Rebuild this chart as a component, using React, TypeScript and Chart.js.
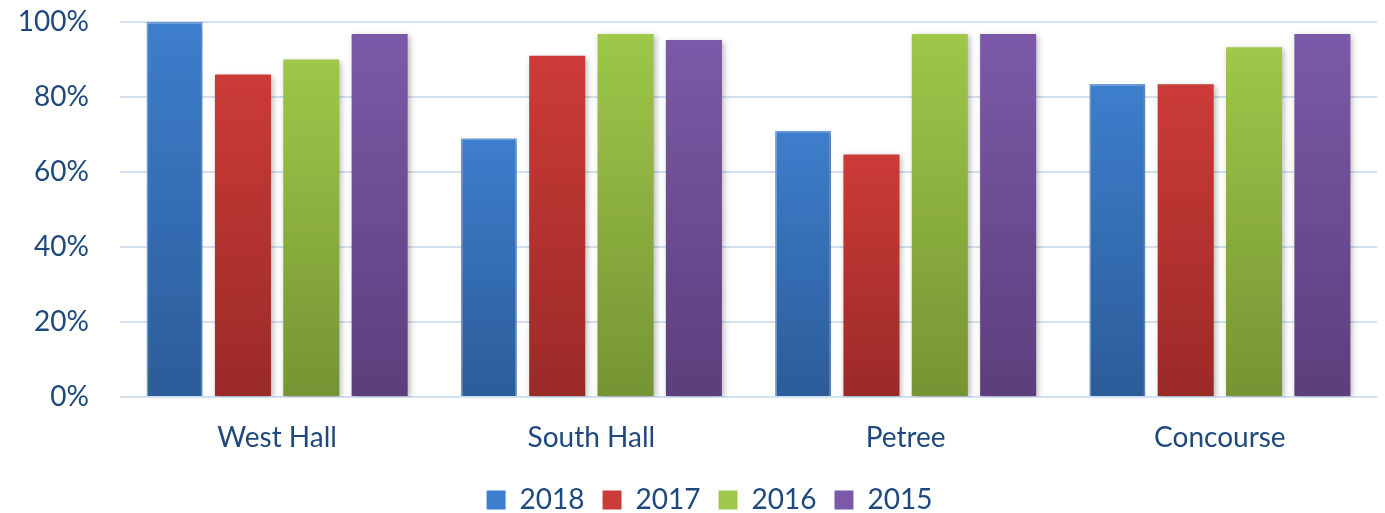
import React, { useEffect, useRef } from "react";
import { Chart, registerables } from "chart.js";

Chart.register(...registerables);

const categories = ["West Hall", "South Hall", "Petree", "Concourse"];
const seriesLabels = ["2018", "2017", "2016", "2015"];
const values2018 = [100, 69, 71, 83.5];
const values2017 = [86, 91, 64.7, 83.4];
const values2016 = [90, 96.8, 96.8, 93.3];
const values2015 = [96.8, 95.2, 96.8, 96.8];
const yTicks = [0, 20, 40, 60, 80, 100];

const topColors = ["#3D7ECC", "#CC3B37", "#9FC74A", "#7B59A8"];
const bottomColors = ["#2C5C99", "#9A2A28", "#759433", "#5D3E7C"];
const TEXT = "#1F497D";
const FONT = "Lato";

function gradientFor(i: number) {
  return (ctx: any) => {
    const chart = ctx.chart;
    const area = chart.chartArea;
    if (!area) return topColors[i];
    const y = chart.scales.y;
    const v = ctx.parsed ? ctx.parsed.y : 100;
    const top = y.getPixelForValue(v);
    const bottom = y.getPixelForValue(0);
    if (!isFinite(top) || top === bottom) return topColors[i];
    const g = chart.ctx.createLinearGradient(0, top, 0, bottom);
    g.addColorStop(0, topColors[i]);
    g.addColorStop(1, bottomColors[i]);
    return g;
  };
}

const shadowPlugin = {
  id: "barShadow",
  beforeDatasetsDraw(chart: any) {
    const c = chart.ctx;
    c.save();
    c.shadowColor = "rgba(0,0,0,0.28)";
    c.shadowBlur = 6;
    c.shadowOffsetX = 2;
    c.shadowOffsetY = 2;
  },
  afterDatasetsDraw(chart: any) {
    chart.ctx.restore();
  },
};

// Excel centres the legend under the plot + axis block; shift it to match
const legendShiftPlugin = {
  id: "legendShift",
  afterLayout(chart: any) {
    if (chart.legend) {
      chart.legend.left += 42;
    }
  },
};

export default function App() {
  const ref = useRef<HTMLCanvasElement | null>(null);
  useEffect(() => {
    if (!ref.current) return;
    const all = [values2018, values2017, values2016, values2015];
    const chart = new Chart(ref.current, {
      type: "bar",
      data: {
        labels: categories,
        datasets: all.map((vals, i) => ({
          label: seriesLabels[i],
          data: vals,
          backgroundColor: gradientFor(i),
          borderColor: i === 0 ? "rgba(98,152,222,0.9)" : "rgba(0,0,0,0)",
          borderWidth: i === 0 ? 1.5 : 0,
          categoryPercentage: 0.87,
          barPercentage: 0.82,
        })),
      },
      options: {
        animation: false,
        responsive: true,
        maintainAspectRatio: false,
        layout: { padding: { top: 22, right: 8, left: 0, bottom: -11 } },
        plugins: {
          legend: {
            position: "bottom",
            labels: {
              color: TEXT,
              font: { family: FONT, size: 28 },
              boxWidth: 19,
              boxHeight: 19,
              padding: 18,
              generateLabels: (ch: any) =>
                ch.data.datasets.map((d: any, i: number) => ({
                  text: d.label,
                  fillStyle: topColors[i],
                  strokeStyle: topColors[i],
                  lineWidth: 0,
                  fontColor: TEXT,
                  datasetIndex: i,
                  hidden: false,
                })),
            },
          },
          tooltip: { enabled: false },
        },
        scales: {
          x: {
            grid: { display: false, drawTicks: false },
            border: { display: false },
            afterFit: (axis: any) => {
              axis.height = 71;
              axis.paddingLeft = 0;
              axis.paddingRight = 0;
            },
            ticks: {
              color: TEXT,
              font: { family: FONT, size: 28 },
              padding: 24,
            },
          },
          y: {
            min: 0,
            max: 100,
            afterBuildTicks: (axis: any) => {
              axis.ticks = yTicks.map((v) => ({ value: v }));
            },
            afterFit: (axis: any) => {
              axis.width = 120;
              axis.paddingTop = 0;
              axis.paddingBottom = 0;
            },
            grid: { color: "#D3E0F0", lineWidth: 2, drawTicks: false },
            border: { display: false },
            ticks: {
              color: TEXT,
              font: { family: FONT, size: 28 },
              padding: 31,
              callback: (v: any) => v + "%",
            },
          },
        },
      },
      plugins: [shadowPlugin, legendShiftPlugin],
    });
    return () => chart.destroy();
  }, []);
  return (
    <div style={{ position: "fixed", left: 0, top: 0, width: 1385, height: 513, background: "#fff" }}>
      <canvas ref={ref} />
    </div>
  );
}
